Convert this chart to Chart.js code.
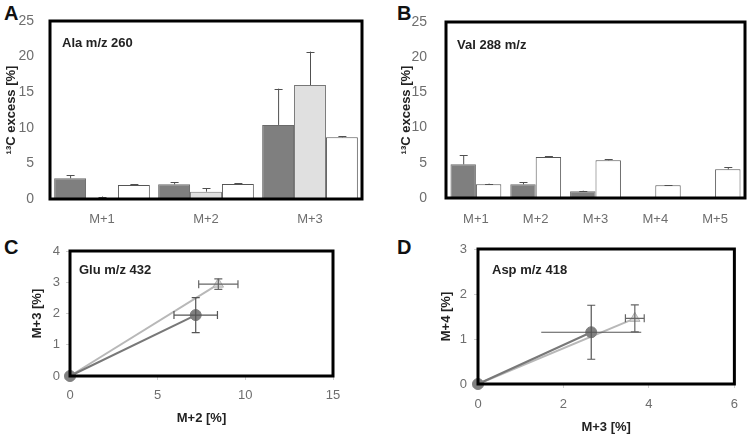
<!DOCTYPE html>
<html><head><meta charset="utf-8">
<script src="https://cdn.jsdelivr.net/npm/chart.js@4.4.0/dist/chart.umd.min.js"></script>
<style>
html,body{margin:0;padding:0;background:#fff;width:747px;height:436px;overflow:hidden;font-family:"Liberation Sans",Arial,sans-serif;}
canvas{position:absolute;}
.lbl{position:absolute;font-weight:bold;font-size:20px;color:#111;line-height:20px;}
</style></head>
<body>
<div class="lbl" style="left:4px;top:3px">A</div>
<div class="lbl" style="left:397px;top:3px">B</div>
<div class="lbl" style="left:4px;top:237px">C</div>
<div class="lbl" style="left:397px;top:237px">D</div>
<canvas id="cA" width="375" height="225" style="left:0;top:0"></canvas>
<canvas id="cB" width="367" height="225" style="left:380px;top:0"></canvas>
<canvas id="cC" width="375" height="211" style="left:0;top:225px"></canvas>
<canvas id="cD" width="367" height="211" style="left:380px;top:225px"></canvas>
<script>
// ---- Data ----
const categoriesA = ['M+1','M+2','M+3'];
const aDark = [2.9, 2.06, 10.4];
const aDarkErr = [0.45, 0.28, 5.1];
const aLight = [0.15, 1.03, 16.0];
const aLightErr = [0.2, 0.47, 4.7];
const aWhite = [1.97, 2.1, 8.66];
const aWhiteErr = [0.09, 0.1, 0.14];

const categoriesB = ['M+1','M+2','M+3','M+4','M+5'];
const bDark = [4.78, 1.94, 0.95, 0, 0];
const bDarkErr = [1.3, 0.29, 0.09, null, null];
const bWhite = [1.94, 5.82, 5.35, 1.8, 4.07];
const bWhiteErr = [0.1, 0.09, 0.14, 0.02, 0.3];

const yTicksBar = [0, 5, 10, 15, 20, 25];

const cDark = [{x:0, y:0}, {x:7.17, y:1.95}];
const cDarkXErr = [0, 1.24];
const cDarkYErr = [0, 0.56];
const cLight = [{x:0, y:0}, {x:8.46, y:2.94}];
const cLightXErr = [0, 1.12];
const cLightYErr = [0, 0.17];

const dDark = [{x:0, y:0}, {x:2.65, y:1.15}];
const dDarkXErr = [0, 1.17];
const dDarkYErr = [0, 0.6];
const dLight = [{x:0, y:0}, {x:3.67, y:1.46}];
const dLightXErr = [0, 0.22];
const dLightYErr = [0, 0.3];

// ---- Styles ----
const FONT = '"Liberation Sans", Arial, sans-serif';
const TICK_COL = '#6e6e6e';
const TITLE_COL = '#222';
const DARK = '#7f7f7f';
const LIGHT = '#e0e0e0';

const boxPlugin = {
  id: 'box',
  afterDraw(chart) {
    const a = chart.chartArea, ctx = chart.ctx;
    ctx.save();
    ctx.strokeStyle = '#000'; ctx.lineWidth = 3;
    ctx.strokeRect(a.left, a.top, a.right - a.left, a.bottom - a.top);
    const o = chart.options.plugins.note;
    if (o) {
      ctx.fillStyle = '#222';
      ctx.font = 'bold 13px ' + FONT;
      ctx.textBaseline = 'middle';
      ctx.fillText(o.text, a.left + o.dx, a.top + o.dy);
    }
    ctx.restore();
  }
};

const barErrPlugin = {
  id: 'barErr',
  afterDatasetsDraw(chart) {
    const ctx = chart.ctx, ys = chart.scales.y;
    chart.data.datasets.forEach((ds, di) => {
      if (!ds.err) return;
      const meta = chart.getDatasetMeta(di);
      meta.data.forEach((bar, i) => {
        const e = ds.err[i];
        if (e == null) return;
        const v = ds.data[i];
        const x = bar.x, y0 = ys.getPixelForValue(v), y1 = ys.getPixelForValue(v + e);
        ctx.save();
        ctx.strokeStyle = '#505050'; ctx.lineWidth = 1;
        ctx.beginPath();
        ctx.moveTo(x + 0.5, y0); ctx.lineTo(x + 0.5, y1);
        ctx.moveTo(x - 3.5, Math.round(y1) + 0.5); ctx.lineTo(x + 4.5, Math.round(y1) + 0.5);
        ctx.stroke();
        ctx.restore();
      });
    });
  }
};

const xyErrPlugin = {
  id: 'xyErr',
  afterDatasetsDraw(chart) {
    const ctx = chart.ctx, xs = chart.scales.x, ys = chart.scales.y;
    chart.data.datasets.forEach((ds) => {
      if (!ds.xErr) return;
      ds.data.forEach((p, i) => {
        const ex = ds.xErr[i], ey = ds.yErr[i];
        const px = xs.getPixelForValue(p.x), py = ys.getPixelForValue(p.y);
        ctx.save();
        ctx.strokeStyle = ds.errColor; ctx.lineWidth = 1.2;
        ctx.beginPath();
        if (ex) {
          const xl = xs.getPixelForValue(p.x - ex), xr = xs.getPixelForValue(p.x + ex);
          ctx.moveTo(xl, py); ctx.lineTo(xr, py);
          if (ds.xCap !== false) {
            ctx.moveTo(xl, py - 4); ctx.lineTo(xl, py + 4);
            ctx.moveTo(xr, py - 4); ctx.lineTo(xr, py + 4);
          }
        }
        if (ey) {
          const yt = ys.getPixelForValue(p.y + ey), yb = ys.getPixelForValue(p.y - ey);
          ctx.moveTo(px, yt); ctx.lineTo(px, yb);
          ctx.moveTo(px - 4, yt); ctx.lineTo(px + 4, yt);
          ctx.moveTo(px - 4, yb); ctx.lineTo(px + 4, yb);
        }
        ctx.stroke();
        ctx.restore();
      });
    });
  }
};

function barDs(data, err, bg, border) {
  return {data, err, backgroundColor: bg, borderColor: border, borderWidth: 1,
          categoryPercentage: 0.92, barPercentage: 1};
}

function barOptions(cfg) {
  return {
    responsive: false, animation: false, devicePixelRatio: 1,
    layout: {padding: cfg.padding},
    plugins: {legend: {display: false}, tooltip: {enabled: false}, note: cfg.note},
    scales: {
      x: {
        grid: {display: false}, border: {display: false},
        ticks: {color: TICK_COL, font: {family: FONT, size: 13}, padding: cfg.xPad},
        afterFit: s => { s.height = cfg.xH; }
      },
      y: {
        min: 0, max: 25,
        afterBuildTicks: s => { s.ticks = yTicksBar.map(v => ({value: v})); },
        grid: {display: false}, border: {display: false},
        ticks: {color: TICK_COL, font: {family: FONT, size: 14}, padding: cfg.yPad},
        title: {display: true, text: '¹³C excess [%]', color: TITLE_COL,
                font: {family: FONT, size: 13, weight: 'bold'}, padding: {top: cfg.tPad, bottom: 0}},
        afterFit: s => { s.width = cfg.yW; }
      }
    }
  };
}

new Chart(document.getElementById('cA'), {
  type: 'bar',
  data: {labels: categoriesA, datasets: [
    barDs(aDark, aDarkErr, DARK, '#6a6a6a'),
    barDs(aLight, aLightErr, LIGHT, '#777'),
    barDs(aWhite, aWhiteErr, '#ffffff', '#555')
  ]},
  options: barOptions({padding: {left: 0, top: 21, right: 13, bottom: 0}, xH: 26, yW: 50,
    xPad: 5, yPad: 8, tPad: 4, note: {text: 'Ala m/z 260', dx: 12, dy: 22}}),
  plugins: [barErrPlugin, boxPlugin]
});

const optB = barOptions({padding: {left: 0, top: 22, right: 2, bottom: 0}, xH: 27, yW: 66,
    xPad: 6, yPad: 11, tPad: 19, note: {text: 'Val 288 m/z', dx: 11, dy: 23}});
new Chart(document.getElementById('cB'), {
  type: 'bar',
  data: {labels: categoriesB, datasets: [
    Object.assign(barDs(bDark, bDarkErr, DARK, '#6a6a6a'), {categoryPercentage: 0.85}),
    Object.assign(barDs(bWhite, bWhiteErr, '#ffffff', '#555'), {categoryPercentage: 0.85})
  ]},
  options: optB,
  plugins: [barErrPlugin, boxPlugin]
});

function scatterOptions(cfg) {
  const tickFont = {family: FONT, size: 13};
  const titleFont = {family: FONT, size: 13, weight: 'bold'};
  return {
    responsive: false, animation: false, devicePixelRatio: 1,
    layout: {padding: cfg.padding},
    plugins: {legend: {display: false}, tooltip: {enabled: false}, note: cfg.note},
    scales: {
      x: {
        type: 'linear', min: 0, max: cfg.xMax,
        afterBuildTicks: s => { s.ticks = cfg.xTicks.map(v => ({value: v})); },
        grid: {drawOnChartArea: false, drawTicks: true, tickLength: 4, color: '#cfcfcf'},
        border: {display: false},
        ticks: {color: TICK_COL, font: tickFont, padding: cfg.xPad},
        title: {display: true, text: cfg.xTitle, color: TITLE_COL, font: titleFont,
                padding: {top: 0, bottom: cfg.xtPad}},
        afterFit: s => { s.height = cfg.xH; }
      },
      y: {
        type: 'linear', min: 0, max: cfg.yMax,
        afterBuildTicks: s => { s.ticks = cfg.yTicks.map(v => ({value: v})); },
        grid: {drawOnChartArea: false, drawTicks: true, tickLength: 4, color: '#cfcfcf'},
        border: {display: false},
        ticks: {color: TICK_COL, font: tickFont, padding: cfg.yPad},
        title: {display: true, text: cfg.yTitle, color: TITLE_COL, font: titleFont,
                padding: {top: cfg.ytPad, bottom: 0}},
        afterFit: s => { s.width = cfg.yW; }
      }
    }
  };
}

function darkDs(data, xErr, yErr, xCap) {
  return {data, xErr, yErr, xCap, errColor: '#555', showLine: true, clip: false,
          borderColor: '#787878', borderWidth: 2, backgroundColor: '#808080',
          pointStyle: 'circle', pointRadius: 5.5, pointBorderColor: '#808080', pointBorderWidth: 1};
}
function lightDs(data, xErr, yErr) {
  return {data, xErr, yErr, errColor: '#666', showLine: true, clip: false,
          borderColor: '#b8b8b8', borderWidth: 2, backgroundColor: '#d6d6d6',
          pointStyle: 'triangle', pointRadius: 6, pointBorderColor: '#b0b0b0', pointBorderWidth: 1};
}

new Chart(document.getElementById('cC'), {
  type: 'scatter',
  data: {datasets: [darkDs(cDark, cDarkXErr, cDarkYErr, true), lightDs(cLight, cLightXErr, cLightYErr)]},
  options: scatterOptions({padding: {left: 0, top: 26, right: 42, bottom: 0}, xH: 60, yW: 70,
    xMax: 15, xTicks: [0, 5, 10, 15], yMax: 4, yTicks: [0, 1, 2, 3, 4],
    xPad: 8, yPad: 6, xTitle: 'M+2 [%]', yTitle: 'M+3 [%]', xtPad: 10, ytPad: 30,
    note: {text: 'Glu m/z 432', dx: 9, dy: 19}}),
  plugins: [xyErrPlugin, boxPlugin]
});

new Chart(document.getElementById('cD'), {
  type: 'scatter',
  data: {datasets: [darkDs(dDark, dDarkXErr, dDarkYErr, false), lightDs(dLight, dLightXErr, dLightYErr)]},
  options: scatterOptions({padding: {left: 0, top: 24, right: 10, bottom: 0}, xH: 52, yW: 98,
    xMax: 6, xTicks: [0, 2, 4, 6], yMax: 3, yTicks: [0, 1, 2, 3],
    xPad: 9, yPad: 7, xTitle: 'M+3 [%]', yTitle: 'M+4 [%]', xtPad: 1, ytPad: 59,
    note: {text: 'Asp m/z 418', dx: 14, dy: 21}}),
  plugins: [xyErrPlugin, boxPlugin]
});
</script>
</body></html>
